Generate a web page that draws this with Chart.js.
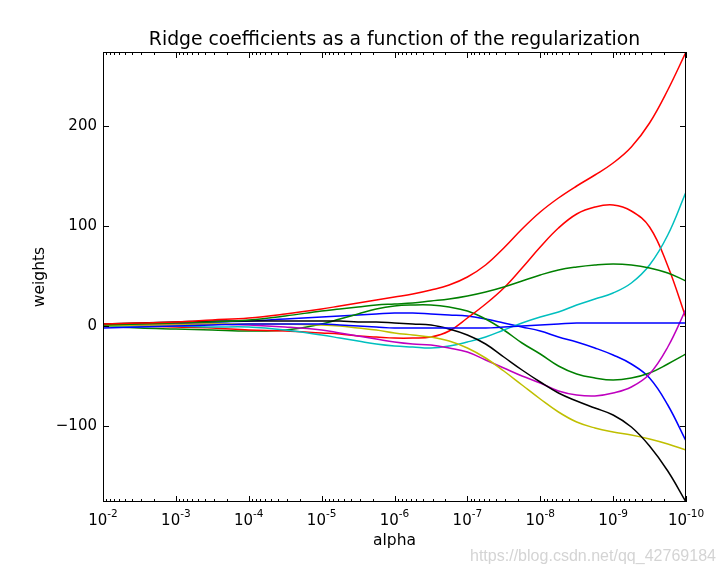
<!DOCTYPE html>
<html>
<head>
<meta charset="utf-8">
<script src="https://cdn.jsdelivr.net/npm/chart.js@4/dist/chart.umd.min.js"></script>
<style>
  html, body { margin: 0; padding: 0; background: #fff; }
</style>
</head>
<body>
<canvas id="chart" width="723" height="575"></canvas>
<script>
// sample points: log10(alpha)
var alphaExp = [-2, -2.5, -3, -3.5, -4, -4.5, -5, -5.25, -5.5, -5.75, -6, -6.25, -6.5, -6.75,
                -7, -7.25, -7.5, -7.75, -8, -8.25, -8.5, -8.75, -9, -9.25, -9.5, -9.75, -10];

// coefficient paths (same order as alphaExp)
var blue1   = [1, 2, 3, 4, 5, 7, 9, 10, 11, 12, 13, 13, 12, 11, 10, 7, 3, -1, -5, -11, -16, -22, -29, -38, -52, -79, -115];
var green1  = [0, -2, -3, -4, -5, -4, 2, 7, 12, 17, 20, 21, 21, 19, 15, 7, -4, -17, -28, -40, -48, -52, -54, -52, -47, -38, -28];
var red1    = [1, 0, -1, -2, -4, -5, -7, -8, -10, -11, -12, -12, -11, -5, 8, 22, 38, 58, 79, 98, 112, 119, 121, 115, 99, 60, 8];
var cyan    = [0, 0, 0, -1, -1, -4, -9, -12, -15, -18, -20, -21, -22, -20, -16, -11, -4, 3, 9, 14, 21, 27, 33, 43, 61, 91, 134];
var magenta = [1, 1, 2, 2, 1, -1, -4, -7, -10, -13, -16, -18, -19, -22, -26, -34, -42, -50, -57, -65, -69, -70, -67, -61, -48, -21, 17];
var yellow  = [0, 1, 1, 2, 2, 2, 1, 0, -2, -4, -7, -9, -11, -15, -22, -32, -45, -59, -73, -86, -96, -102, -106, -109, -113, -118, -124];
var black   = [2, 3, 4, 5, 5, 5, 5, 5, 4, 4, 3, 2, 1, -3, -9, -18, -31, -44, -56, -67, -75, -82, -89, -101, -120, -145, -176];
var blue2   = [-2, -1, 0, 1, 2, 2, 2, 1, 0, -1, -2, -2, -2, -2, -2, -2, -1, 0, 1, 2, 3, 3, 3, 3, 3, 3, 3];
var green2  = [1, 2, 3, 4, 6, 10, 15, 17, 19, 21, 22, 23, 25, 27, 30, 34, 39, 45, 51, 56, 59, 61, 62, 61, 58, 53, 45];
var red2    = [2, 3, 4, 6, 8, 12, 17, 20, 23, 26, 29, 32, 36, 41, 49, 61, 78, 97, 114, 128, 140, 151, 163, 179, 203, 236, 274];

var series = [blue1, green1, red1, cyan, magenta, yellow, black, blue2, green2, red2];
var colors = ['#0000ff', '#008000', '#ff0000', '#00bfbf', '#bf00bf', '#bfbf00', '#000000', '#0000ff', '#008000', '#ff0000'];

var xDecades = [-2, -3, -4, -5, -6, -7, -8, -9, -10];
var yTicks = [-100, 0, 100, 200];
var yMin = -176, yMax = 274;

var TITLE = 'Ridge coefficients as a function of the regularization';
var FONT = "'DejaVu Sans', sans-serif";

var datasets = series.map(function(vals, i) {
  return {
    data: vals.map(function(v, j) { return { x: Math.pow(10, alphaExp[j]), y: v }; }),
    borderColor: colors[i],
    borderWidth: 1.5,
    pointRadius: 0,
    fill: false,
    tension: 0.4,
    order: -i
  };
});

// inward ticks on all four sides, frame, title, superscript decade labels, watermark
var axesDecor = {
  id: 'axesDecor',
  afterDraw: function(chart) {
    var ctx = chart.ctx, a = chart.chartArea;
    var xs = chart.scales.x, ys = chart.scales.y;
    ctx.save();
    ctx.strokeStyle = '#000';
    ctx.lineWidth = 1;
    ctx.beginPath();
    xDecades.forEach(function(d) {
      var px = Math.round(xs.getPixelForValue(Math.pow(10, d))) + 0.5;
      ctx.moveTo(px, a.bottom); ctx.lineTo(px, a.bottom - 6);
      ctx.moveTo(px, a.top); ctx.lineTo(px, a.top + 6);
      if (d > -10) {
        for (var m = 2; m <= 9; m++) {
          var mx = Math.round(xs.getPixelForValue(m * Math.pow(10, d - 1))) + 0.5;
          ctx.moveTo(mx, a.bottom); ctx.lineTo(mx, a.bottom - 3);
          ctx.moveTo(mx, a.top); ctx.lineTo(mx, a.top + 3);
        }
      }
    });
    yTicks.forEach(function(v) {
      var py = Math.round(ys.getPixelForValue(v)) + 0.5;
      ctx.moveTo(a.left, py); ctx.lineTo(a.left + 6, py);
      ctx.moveTo(a.right, py); ctx.lineTo(a.right - 6, py);
    });
    ctx.stroke();
    ctx.strokeRect(a.left + 0.5, a.top + 0.5, a.width - 1, a.height - 1);

    ctx.fillStyle = '#000';
    ctx.textBaseline = 'alphabetic';
    ctx.textAlign = 'center';
    ctx.font = '18.8px ' + FONT;
    ctx.fillText(TITLE, (a.left + a.right) / 2, a.top - 7);

    // 10^n labels
    ctx.textAlign = 'left';
    xDecades.forEach(function(d) {
      var px = xs.getPixelForValue(Math.pow(10, d));
      ctx.font = '15px ' + FONT;
      var wb = ctx.measureText('10').width;
      ctx.font = '10.5px ' + FONT;
      var sup = '-' + Math.abs(d);
      var ws = ctx.measureText(sup).width;
      var x0 = px - (wb + ws) / 2;
      ctx.font = '15px ' + FONT;
      ctx.fillText('10', x0, a.bottom + 23);
      ctx.font = '10.5px ' + FONT;
      ctx.fillText(sup, x0 + wb, a.bottom + 15);
    });

    ctx.font = "17px 'Liberation Sans Narrow', 'Liberation Sans', sans-serif";
    ctx.fillStyle = '#d4d4d4';
    ctx.textAlign = 'right';
    ctx.fillText('https://blog.csdn.net/qq_42769184', 716, 561, 246);
    ctx.restore();
  }
};

var chartOptions = {
  responsive: false,
  animation: false,
  events: [],
  layout: { padding: { left: 0, right: 37, top: 52, bottom: 0 } },
  scales: {
    x: {
      type: 'logarithmic',
      position: 'bottom',
      min: 1e-10,
      max: 1e-2,
      reverse: true,
      grid: { display: false, drawTicks: false },
      border: { display: false },
      ticks: { display: false },
      afterBuildTicks: function(scale) {
        scale.ticks = xDecades.map(function(d) { return { value: Math.pow(10, d) }; });
      },
      afterFit: function(scale) { scale.height = 73; },
      title: {
        display: true,
        text: 'alpha',
        color: '#000',
        font: { family: FONT, size: 15.5 },
        padding: { top: 0, bottom: 25 }
      }
    },
    y: {
      type: 'linear',
      min: yMin,
      max: yMax,
      grid: { display: false, drawTicks: false },
      border: { display: false },
      afterBuildTicks: function(scale) {
        scale.ticks = yTicks.map(function(v) { return { value: v }; });
      },
      afterFit: function(scale) { scale.width = 103; },
      ticks: {
        color: '#000',
        padding: 6,
        font: { family: FONT, size: 15 },
        callback: function(v) { return v < 0 ? '\u2212' + Math.abs(v) : String(v); }
      },
      title: {
        display: true,
        text: 'weights',
        color: '#000',
        font: { family: FONT, size: 15.5 },
        padding: { top: 31, bottom: 0 }
      }
    }
  },
  plugins: {
    legend: { display: false },
    tooltip: { enabled: false },
    title: { display: false }
  }
};

var ctx = document.getElementById('chart').getContext('2d');
var chart = new Chart(ctx, {
  type: 'line',
  data: { datasets: datasets },
  options: chartOptions,
  plugins: [axesDecor]
});
</script>
</body>
</html>
